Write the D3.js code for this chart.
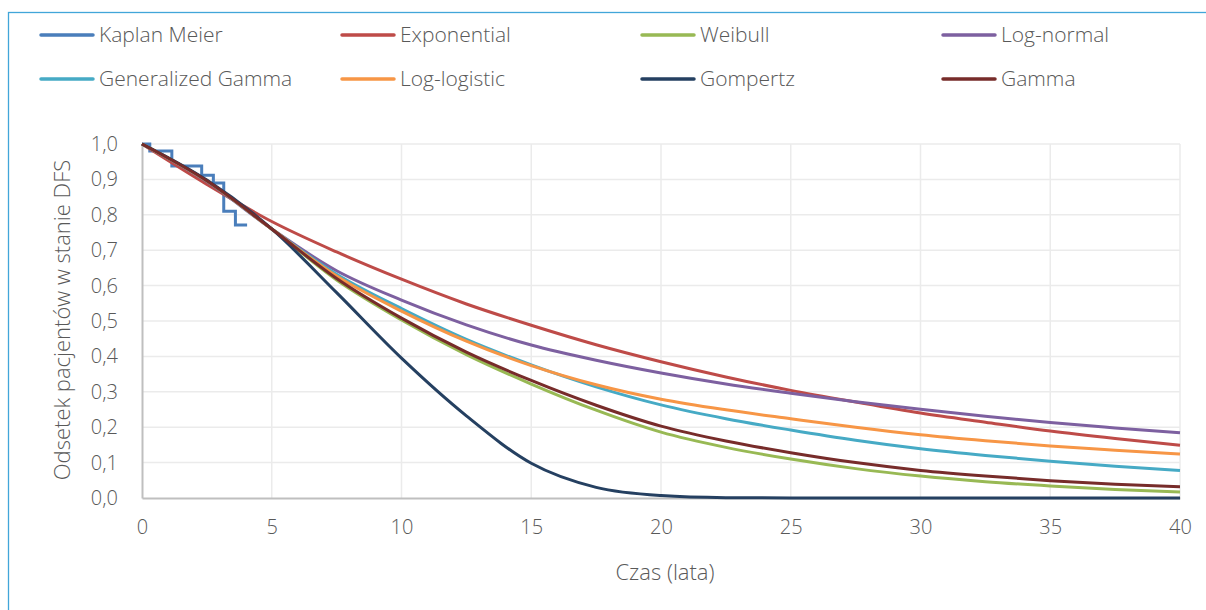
<!DOCTYPE html>
<html>
<head>
<meta charset="utf-8">
<script src="https://cdn.jsdelivr.net/npm/d3@7"></script>
<style>
  body { margin: 0; background: #fff; }
  text { font-family: "Open Sans", Lato, sans-serif; font-weight: 300; fill: #595959; }
</style>
</head>
<body>
<div id="chart"></div>
<script>
// czas (lata) dla krzywych parametrycznych
var years = [0, 2.5, 5, 7.5, 10, 12.5, 15, 17.5, 20, 22.5, 25, 27.5, 30, 32.5, 35, 37.5, 40];

var exponential = [1.0, 0.886, 0.781, 0.695, 0.618, 0.548, 0.488, 0.433, 0.385, 0.342, 0.304, 0.271, 0.240, 0.214, 0.189, 0.168, 0.149];
var weibull     = [1.0, 0.896, 0.760, 0.616, 0.503, 0.405, 0.322, 0.248, 0.186, 0.143, 0.110, 0.083, 0.062, 0.046, 0.034, 0.024, 0.017];
var logNormal   = [1.0, 0.894, 0.760, 0.642, 0.559, 0.489, 0.432, 0.389, 0.353, 0.322, 0.296, 0.272, 0.251, 0.231, 0.213, 0.198, 0.184];
var genGamma    = [1.0, 0.896, 0.760, 0.632, 0.535, 0.448, 0.376, 0.314, 0.263, 0.224, 0.192, 0.163, 0.139, 0.120, 0.104, 0.090, 0.078];
var logLogistic = [1.0, 0.896, 0.760, 0.627, 0.528, 0.443, 0.374, 0.320, 0.279, 0.249, 0.224, 0.200, 0.179, 0.162, 0.147, 0.135, 0.124];
var gompertz    = [1.0, 0.898, 0.760, 0.580, 0.395, 0.232, 0.098, 0.030, 0.007, 0.001, 0.0, 0.0, 0.0, 0.0, 0.0, 0.0, 0.0];
var gamma       = [1.0, 0.896, 0.760, 0.620, 0.508, 0.412, 0.332, 0.262, 0.203, 0.161, 0.128, 0.100, 0.078, 0.062, 0.049, 0.039, 0.032];

// Kaplan Meier (schodki)
var kmTime = [0, 0.3, 1.15, 2.3, 2.75, 3.15, 3.6, 4.05];
var kmSurv = [1.0, 0.98, 0.938, 0.912, 0.89, 0.81, 0.771, 0.771];

var xTicks = [0, 5, 10, 15, 20, 25, 30, 35, 40];
var yTicks = [0, 0.1, 0.2, 0.3, 0.4, 0.5, 0.6, 0.7, 0.8, 0.9, 1.0];

var series = [
  {name: "Kaplan Meier", color: "#4a7ebb"},
  {name: "Exponential", color: "#be4b48", values: exponential},
  {name: "Weibull", color: "#98b954", values: weibull},
  {name: "Log-normal", color: "#7d60a0", values: logNormal},
  {name: "Generalized Gamma", color: "#46aac5", values: genGamma},
  {name: "Log-logistic", color: "#f79646", values: logLogistic},
  {name: "Gompertz", color: "#254061", values: gompertz},
  {name: "Gamma", color: "#772c2a", values: gamma}
];

var width = 1206, height = 610;
var margin = {top: 144, right: 26, bottom: 112, left: 142};

var svg = d3.select("#chart").append("svg")
    .attr("width", width)
    .attr("height", height);

// ramka
svg.append("rect")
    .attr("x", 8.5).attr("y", 12.5)
    .attr("width", width + 20).attr("height", height + 20)
    .attr("fill", "none")
    .attr("stroke", "#41a6d9")
    .attr("stroke-width", 1.3);

var x = d3.scaleLinear().domain([0, 40]).range([margin.left, width - margin.right]);
var y = d3.scaleLinear().domain([0, 1]).range([height - margin.bottom, margin.top]);

var format = function (d) { return d3.format(".1f")(d).replace(".", ","); };

// siatka
svg.append("g").selectAll("line").data(yTicks.slice(1)).enter()
    .append("line")
    .attr("x1", x(0)).attr("x2", x(40))
    .attr("y1", function (d) { return y(d); })
    .attr("y2", function (d) { return y(d); })
    .attr("stroke", "#ebebeb").attr("stroke-width", 1.5);
svg.append("g").selectAll("line").data(xTicks.slice(1)).enter()
    .append("line")
    .attr("y1", y(0)).attr("y2", y(1))
    .attr("x1", function (d) { return x(d); })
    .attr("x2", function (d) { return x(d); })
    .attr("stroke", "#ebebeb").attr("stroke-width", 1.5);

// osie
var xAxis = svg.append("g")
    .attr("transform", "translate(0," + y(0) + ")")
    .call(d3.axisBottom(x).tickValues(xTicks).tickSize(0).tickPadding(22));
var yAxis = svg.append("g")
    .attr("transform", "translate(" + x(0) + ",0)")
    .call(d3.axisLeft(y).tickValues(yTicks).tickFormat(format).tickSize(0).tickPadding(24));
[xAxis, yAxis].forEach(function (a) {
    a.select(".domain").attr("stroke", "#bfbfbf").attr("stroke-width", 2);
    a.selectAll("text").style("font-size", "20px").attr("fill", "#595959")
        .style("font-family", "'Open Sans', sans-serif").style("font-weight", 300);
});

svg.append("text")
    .text("Czas (lata)")
    .attr("x", 665).attr("y", 580)
    .attr("text-anchor", "middle")
    .style("font-size", "22px");
svg.append("text")
    .text("Odsetek pacjentów w stanie DFS")
    .attr("transform", "translate(70,320) rotate(-90)")
    .attr("text-anchor", "middle")
    .style("font-size", "22px");

// linie
var line = d3.line()
    .x(function (d) { return x(d[0]); })
    .y(function (d) { return y(d[1]); })
    .curve(d3.curveMonotoneX);

var kmLine = d3.line()
    .x(function (d) { return x(d[0]); })
    .y(function (d) { return y(d[1]); })
    .curve(d3.curveStepAfter);

svg.append("path")
    .datum(kmTime.map(function (t, i) { return [t, kmSurv[i]]; }))
    .attr("d", kmLine)
    .attr("fill", "none")
    .attr("stroke", series[0].color)
    .attr("stroke-width", 3);

var drawOrder = [1, 3, 4, 5, 2, 6, 7];
drawOrder.forEach(function (k) {
    var s = series[k];
    svg.append("path")
        .datum(years.map(function (t, i) { return [t, s.values[i]]; }))
        .attr("d", line)
        .attr("fill", "none")
        .attr("stroke", s.color)
        .attr("stroke-width", 3)
        .attr("stroke-linejoin", "round");
});

// legenda
var legendX = [40, 341, 641, 942];
var legendY = [35, 79];
var legend = svg.append("g").selectAll("g").data(series).enter()
    .append("g")
    .attr("transform", function (d, i) {
        return "translate(" + legendX[i % 4] + "," + legendY[Math.floor(i / 4)] + ")";
    });
legend.append("line")
    .attr("x1", 1).attr("x2", 53)
    .attr("stroke", function (d) { return d.color; })
    .attr("stroke-width", 3.5)
    .attr("stroke-linecap", "round");
legend.append("text")
    .text(function (d) { return d.name; })
    .attr("x", 59)
    .attr("dy", "0.35em")
    .style("font-size", "21px");
</script>
</body>
</html>
